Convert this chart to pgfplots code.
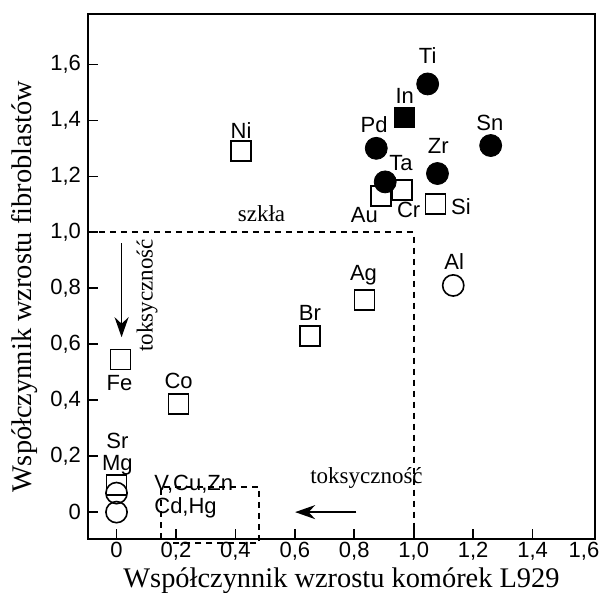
\documentclass[border=0pt]{standalone}
\usepackage{fontspec}
\setmainfont{Liberation Serif}
\setsansfont{Liberation Sans}
\usepackage{pgfplots}
\pgfplotsset{compat=1.18}
\usetikzlibrary{arrows.meta}

\newcommand{\lbl}{\sffamily\fontsize{11}{13}\selectfont}
\newcommand{\ann}{\fontsize{11.5}{13}\selectfont}

\begin{document}
\begin{tikzpicture}
\begin{axis}[
    scale only axis,
    width=253.5pt, height=262.5pt,
    xmin=-0.096, xmax=1.61,
    ymin=-0.096, ymax=1.78,
    axis line style={line width=1pt},
    clip=false,
    tick align=inside,
    major tick length=5pt,
    tick style={line width=0.8pt, black},
    xtick={0,0.2,0.4,0.6,0.8,1.0,1.2,1.4},
    xticklabels={0,{0,2},{0,4},{0,6},{0,8},{1,0},{1,2},{1,4}},
    extra x ticks={1.6},
    extra x tick labels={1{,}6},
    extra x tick style={major tick length=0pt, xticklabel style={xshift=-4pt}},
    ytick={0,0.2,0.4,0.6,0.8,1.0,1.2,1.4,1.6},
    yticklabels={0,{0,2},{0,4},{0,6},{0,8},{1,0},{1,2},{1,4},{1,6}},
    ticklabel style={font=\lbl},
    xticklabel style={inner ysep=1.5pt},
    /pgf/number format/assume math mode=true,
    xtick pos=bottom, ytick pos=left,
    xlabel={Współczynnik wzrostu komórek L929},
    ylabel={Współczynnik wzrostu fibroblastów},
    label style={font=\fontsize{14.2}{16}\selectfont},
    xlabel style={at={(axis description cs:0.5,-0.079)}, anchor=center, inner sep=0pt},
    ylabel style={at={(axis description cs:-0.126,0.48)}, anchor=center},
]
% dashed boundaries
\addplot[black, line width=0.8pt, dash pattern=on 3pt off 2.5pt] coordinates {(-0.096,1.0) (1.0,1.0) (1.0,-0.096)};
\addplot[black, line width=0.8pt, dash pattern=on 3pt off 2.5pt] coordinates {(0.15,-0.096) (0.15,0.09) (0.48,0.09) (0.48,-0.11) (0.17,-0.11)};

% open squares
\addplot[only marks, mark=square, mark size=5pt, mark options={line width=0.8pt, fill=white}, black] coordinates {
(0.419,1.29) (0.889,1.13) (0.960,1.15) (1.073,1.10)
(0.834,0.757) (0.651,0.63) (0.013,0.546) (0.209,0.386) (0.0,0.096)};
% open circles
\addplot[only marks, mark=o, mark size=5.3pt, mark options={line width=0.8pt}, black] coordinates {
(1.133,0.81) (0.0,0.068) (0.0,0.0)};
% filled square
\addplot[only marks, mark=square*, mark size=5pt, black] coordinates {(0.97,1.41)};
% filled circles
\addplot[only marks, mark=*, mark size=5.5pt, black] coordinates {
(1.047,1.53) (0.874,1.30) (1.259,1.31) (1.080,1.21) (0.904,1.18)};

% arrows
\addplot[black, line width=0.9pt, -{Stealth[length=10pt,width=7pt]}] coordinates {(0.017,0.961) (0.017,0.625)};
\addplot[black, line width=0.9pt, -{Stealth[length=10pt,width=7pt]}] coordinates {(0.807,0.0) (0.601,0.0)};

% element labels
\node[font=\lbl] at (axis cs:1.047,1.632) {Ti};
\node[font=\lbl] at (axis cs:0.970,1.486) {In};
\node[font=\lbl] at (axis cs:0.867,1.386) {Pd};
\node[font=\lbl] at (axis cs:1.256,1.389) {Sn};
\node[font=\lbl] at (axis cs:1.083,1.307) {Zr};
\node[font=\lbl] at (axis cs:0.957,1.246) {Ta};
\node[font=\lbl] at (axis cs:0.834,1.061) {Au};
\node[font=\lbl] at (axis cs:0.983,1.079) {Cr};
\node[font=\lbl] at (axis cs:1.159,1.093) {Si};
\node[font=\lbl] at (axis cs:0.419,1.364) {Ni};
\node[font=\lbl] at (axis cs:1.136,0.896) {Al};
\node[font=\lbl] at (axis cs:0.831,0.846) {Ag};
\node[font=\lbl] at (axis cs:0.651,0.711) {Br};
\node[font=\lbl] at (axis cs:0.010,0.461) {Fe};
\node[font=\lbl] at (axis cs:0.209,0.468) {Co};
\node[font=\lbl] at (axis cs:0.003,0.254) {Sr};
\node[font=\lbl] at (axis cs:0.003,0.168) {Mg};
\node[font=\lbl, anchor=west, inner sep=0pt] at (axis cs:0.126,0.10) {V,Cu,Zn};
\node[font=\lbl, anchor=west, inner sep=0pt] at (axis cs:0.126,0.014) {Cd,Hg};

% annotations
\node[font=\ann] at (axis cs:0.488,1.068) {szkła};
\node[font=\ann, rotate=90] at (axis cs:0.103,0.775) {toksyczność};
\node[font=\ann] at (axis cs:0.841,0.121) {toksyczność};
\end{axis}
\pgfresetboundingbox
\path ([xshift=-44pt,yshift=-27pt]current axis.south west) rectangle ([xshift=3.5pt,yshift=7pt]current axis.north east);
\end{tikzpicture}
\end{document}
